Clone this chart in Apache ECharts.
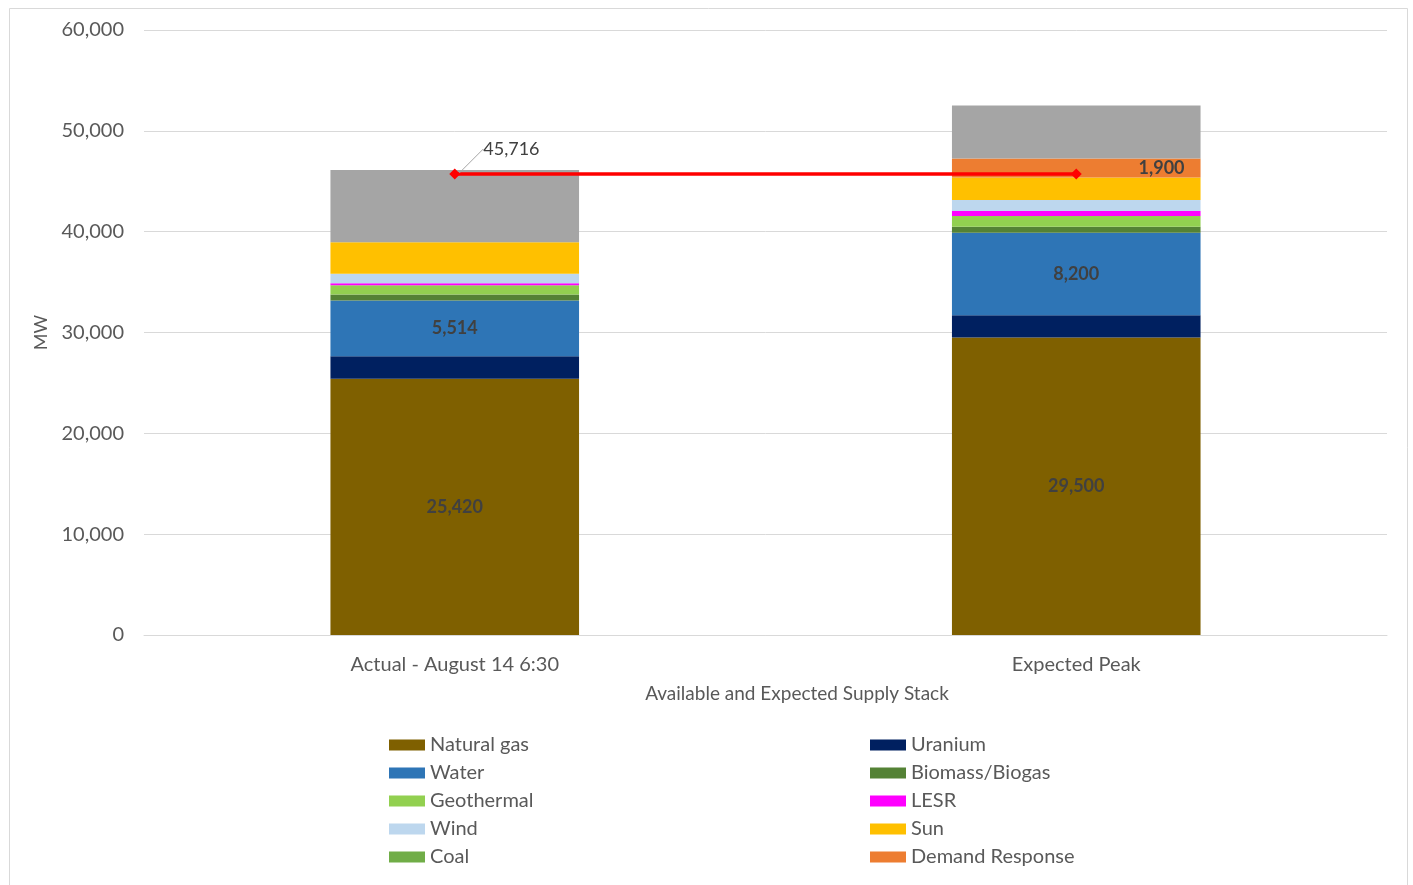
<!DOCTYPE html>
<html>
<head>
<meta charset="utf-8">
<script src="https://cdn.jsdelivr.net/npm/echarts@6/dist/echarts.min.js"></script>
<style>
  html, body { margin: 0; padding: 0; background: #fff; }
  #chart { width: 1413px; height: 885px; }
</style>
</head>
<body>
<div id="chart"></div>
<script>
// Supply stack (MW) for the two scenarios
const categories = ['Actual - August 14 6:30', 'Expected Peak'];

const naturalGas     = [25420, 29500];
const uranium        = [2230, 2200];
const water          = [5514, 8200];
const biomass        = [600, 600];
const geothermal     = [930, 1060];
const lesr           = [200, 500];
const wind           = [930, 1090];
const sun            = [3130, 2210];
const coal           = [0, 0];
const demandResponse = [0, 1900];
const imports        = [7150, 5250];

const demand = [45716, 45716];

const yTicks = { min: 0, max: 60000, interval: 10000 };

const FONT = 'Lato, "Liberation Sans", sans-serif';
const fmt = v => Number(v).toLocaleString('en-US');

const stackDefs = [
  { name: 'Natural gas',     data: naturalGas,     color: '#7F6000', labelled: true },
  { name: 'Uranium',         data: uranium,        color: '#002060' },
  { name: 'Water',           data: water,          color: '#2E75B6', labelled: true },
  { name: 'Biomass/Biogas',  data: biomass,        color: '#548235' },
  { name: 'Geothermal',      data: geothermal,     color: '#92D050' },
  { name: 'LESR',            data: lesr,           color: '#FF00FF' },
  { name: 'Wind',            data: wind,           color: '#BDD7EE' },
  { name: 'Sun',             data: sun,            color: '#FFC000' },
  { name: 'Coal',            data: coal,           color: '#70AD47' },
  { name: 'Demand Response', data: demandResponse, color: '#ED7D31', labelled: true, labelPos: 'insideRight' },
  { name: 'Imports',         data: imports,        color: '#A5A5A5' }
];

const barSeries = stackDefs.map(d => ({
  name: d.name,
  type: 'bar',
  stack: 'supply',
  barWidth: '40%',
  data: d.data,
  itemStyle: { color: d.color },
  label: {
    show: !!d.labelled,
    position: d.labelPos || 'inside',
    distance: 16,
    color: '#404040',
    fontFamily: FONT,
    fontSize: 18,
    fontWeight: 'bold',
    formatter: p => (p.value ? fmt(p.value) : '')
  },
  emphasis: { disabled: true }
}));

const lineSeries = {
  name: 'Demand',
  type: 'line',
  data: demand.map((v, i) => i === 0 ? { value: v, label: { show: true } } : v),
  symbol: 'diamond',
  symbolSize: 11,
  itemStyle: { color: '#FF0000' },
  lineStyle: { color: '#FF0000', width: 3.5 },
  label: {
    show: false,
    position: 'right',
    color: '#404040',
    fontFamily: FONT,
    fontSize: 18,
    formatter: p => fmt(p.value)
  },
  labelLayout: { dx: 18, dy: -25 },
  labelLine: { show: true, lineStyle: { color: '#A6A6A6', width: 1 } },
  z: 10,
  emphasis: { disabled: true }
};

const legendText = { color: '#595959', fontFamily: FONT, fontSize: 20, lineHeight: 22 };
const legendCommon = {
  orient: 'vertical',
  top: 729,
  itemWidth: 36,
  itemHeight: 11,
  itemGap: 6,
  icon: 'rect',
  selectedMode: false,
  textStyle: legendText
};

const chart = echarts.init(document.getElementById('chart'), null, { renderer: 'canvas' });
chart.setOption({
  animation: false,
  backgroundColor: '#fff',
  graphic: [{
    type: 'rect',
    shape: { x: 9.5, y: 8.5, width: 1398, height: 890 },
    style: { fill: 'none', stroke: '#D9D9D9', lineWidth: 1 },
    silent: true
  }],
  grid: { left: 144, right: 26, top: 30, bottom: 250 },
  legend: [
    Object.assign({}, legendCommon, { left: 384, data: ['Natural gas', 'Water', 'Geothermal', 'Wind', 'Coal'] }),
    Object.assign({}, legendCommon, { left: 865, data: ['Uranium', 'Biomass/Biogas', 'LESR', 'Sun', 'Demand Response'] })
  ],
  xAxis: {
    type: 'category',
    data: categories,
    name: 'Available and Expected Supply Stack',
    nameLocation: 'middle',
    nameGap: 49,
    nameTextStyle: { color: '#595959', fontFamily: FONT, fontSize: 19, padding: [0, 0, 0, 63] },
    axisLine: { lineStyle: { color: '#D9D9D9' } },
    axisTick: { show: false },
    axisLabel: { color: '#595959', fontFamily: FONT, fontSize: 20, margin: 20 }
  },
  yAxis: {
    type: 'value',
    min: yTicks.min,
    max: yTicks.max,
    interval: yTicks.interval,
    name: 'MW',
    nameLocation: 'middle',
    nameGap: 93,
    nameTextStyle: { color: '#595959', fontFamily: FONT, fontSize: 18 },
    axisLine: { show: false },
    axisTick: { show: false },
    splitLine: { lineStyle: { color: '#D9D9D9', width: 1 } },
    axisLabel: { color: '#595959', fontFamily: FONT, fontSize: 20, margin: 20, formatter: v => fmt(v) }
  },
  series: barSeries.concat([lineSeries])
});
</script>
</body>
</html>
